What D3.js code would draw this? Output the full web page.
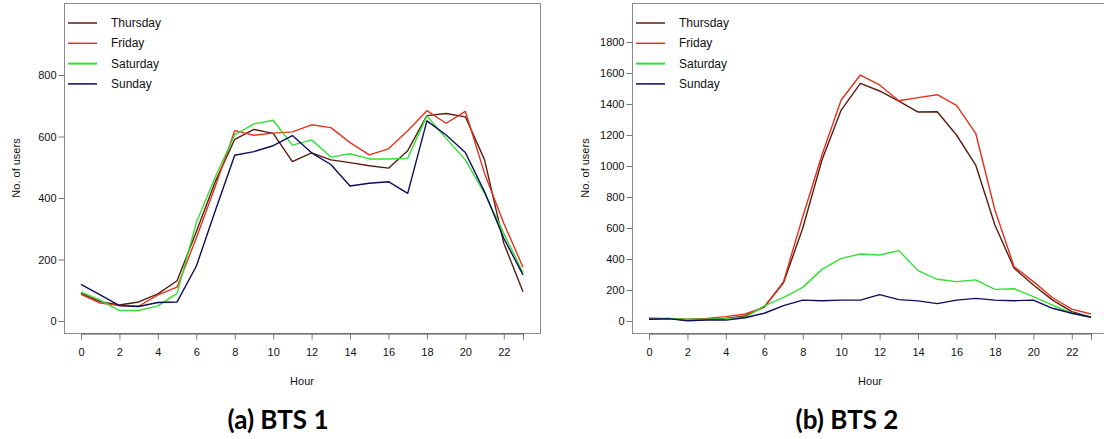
<!DOCTYPE html>
<html>
<head>
<meta charset="utf-8">
<script src="https://cdn.jsdelivr.net/npm/d3@7"></script>
<style>
  body { margin: 0; background: #fff; }
  svg { display: block; }
  .tick-label { font-family: "Liberation Sans", Arial, sans-serif; font-size: 11px; fill: #111; }
  .axis-title { font-family: "Liberation Sans", Arial, sans-serif; font-size: 11px; fill: #111; }
  .legend-text { font-family: "Liberation Sans", Arial, sans-serif; font-size: 12px; fill: #111; }
  .caption { font-family: Lato, "Noto Sans", sans-serif; font-size: 26px; font-weight: bold; fill: #000; }
</style>
</head>
<body>
<svg id="chart" width="1104" height="439"></svg>
<script>
// Hours of the day
const hours = d3.range(0, 24);
const days = ["Thursday", "Friday", "Saturday", "Sunday"];
const dayColors = ["#5a1e10", "#e0321e", "#35de35", "#0d0d5c"];

// BTS 1 values
const bts1Thursday = [90, 63, 52, 62, 88, 131, 290, 455, 591, 623, 610, 518, 547, 524, 515, 505, 497, 554, 668, 675, 664, 524, 253, 95];
const bts1Friday   = [87, 58, 50, 48, 85, 110, 270, 440, 619, 604, 611, 615, 638, 629, 580, 540, 560, 619, 684, 643, 682, 480, 318, 175];
const bts1Saturday = [95, 68, 34, 34, 49, 90, 320, 470, 605, 641, 653, 572, 589, 533, 544, 527, 527, 529, 667, 594, 524, 415, 285, 157];
const bts1Sunday   = [119, 85, 50, 47, 60, 62, 178, 361, 539, 551, 570, 603, 547, 509, 439, 448, 453, 415, 651, 605, 548, 420, 269, 150];

// BTS 2 values
const bts2Thursday = [11, 15, 6, 11, 17, 32, 92, 247, 598, 1039, 1361, 1533, 1484, 1419, 1348, 1350, 1200, 1006, 619, 340, 232, 135, 60, 24];
const bts2Friday   = [11, 17, 11, 17, 28, 45, 88, 254, 673, 1071, 1426, 1587, 1523, 1421, 1441, 1460, 1391, 1211, 716, 350, 254, 150, 77, 45];
const bts2Saturday = [21, 15, 11, 11, 15, 24, 97, 153, 217, 333, 404, 432, 426, 454, 325, 269, 254, 265, 204, 208, 157, 103, 50, 24];
const bts2Sunday   = [11, 15, 2, 6, 6, 21, 50, 99, 135, 131, 135, 135, 170, 138, 130, 112, 135, 146, 135, 131, 135, 82, 50, 24];

const xTicks = [0, 2, 4, 6, 8, 10, 12, 14, 16, 18, 20, 22, 23];
const bts1YTicks = [0, 200, 400, 600, 800];
const bts2YTicks = [0, 200, 400, 600, 800, 1000, 1200, 1400, 1600, 1800];

const svg = d3.select("#chart");

function drawPanel(cfg) {
    const g = svg.append("g");

    const x = d3.scaleLinear().domain([0, 23]).range(cfg.xRange);
    const y = d3.scaleLinear().domain([0, cfg.yMax]).range(cfg.yRange);

    // frame
    g.append("rect")
        .attr("x", cfg.box[0] + 0.5)
        .attr("y", cfg.box[1] + 0.5)
        .attr("width", cfg.box[2] - cfg.box[0])
        .attr("height", cfg.box[3] - cfg.box[1])
        .attr("fill", "none")
        .attr("stroke", "#8a8a8a")
        .attr("stroke-width", 1);

    // x axis
    const xAxis = g.append("g")
        .attr("transform", `translate(0,${cfg.box[3] + 0.5})`)
        .call(d3.axisBottom(x)
            .tickValues(xTicks)
            .tickSize(6)
            .tickFormat(d => d === 23 ? "" : d));
    xAxis.select(".domain").attr("stroke", "#555");
    xAxis.selectAll(".tick line").attr("stroke", "#777");
    xAxis.selectAll(".tick text").attr("class", "tick-label").attr("dy", "1.2em")
        .attr("font-family", null).attr("font-size", null).attr("fill", null);

    // y axis
    const yAxis = g.append("g")
        .attr("transform", `translate(${cfg.box[0] + 0.5},0)`)
        .call(d3.axisLeft(y).tickValues(cfg.yTicks).tickSize(6).tickFormat(d3.format("d")));
    yAxis.select(".domain").remove();
    yAxis.selectAll(".tick line").attr("stroke", "#777");
    yAxis.selectAll(".tick text").attr("class", "tick-label").attr("x", -8)
        .attr("font-family", null).attr("font-size", null).attr("fill", null);

    // titles
    g.append("text")
        .attr("class", "axis-title")
        .attr("x", (cfg.box[0] + cfg.box[2]) / 2)
        .attr("y", 385)
        .attr("text-anchor", "middle")
        .text("Hour");

    g.append("text")
        .attr("class", "axis-title")
        .attr("transform", `translate(${cfg.yTitleX},168) rotate(-90)`)
        .attr("text-anchor", "middle")
        .text("No. of users");

    // lines
    const line = d3.line()
        .x((d, i) => x(hours[i]))
        .y(d => y(d));

    cfg.series.forEach((s, i) => {
        g.append("path")
            .datum(s)
            .attr("fill", "none")
            .attr("stroke", dayColors[i])
            .attr("stroke-width", 1.4)
            .attr("stroke-linejoin", "round")
            .attr("d", line);
    });

    // legend
    const legend = g.append("g")
        .attr("transform", `translate(${cfg.box[0] + 4},23)`);
    days.forEach((day, i) => {
        legend.append("line")
            .attr("x1", 0).attr("x2", 29)
            .attr("y1", i * 20.3).attr("y2", i * 20.3)
            .attr("stroke", dayColors[i])
            .attr("stroke-width", i === 2 ? 2 : 1.5);
        legend.append("text")
            .attr("class", "legend-text")
            .attr("x", 43)
            .attr("y", i * 20.3 + 4)
            .text(day);
    });

    // caption
    g.append("text")
        .attr("class", "caption")
        .attr("x", cfg.captionX)
        .attr("y", 429)
        .attr("text-anchor", "middle")
        .text(cfg.caption);
}

drawPanel({
    box: [64, 3, 540, 333],
    xRange: [81, 523],
    yRange: [321, 75],
    yMax: 800,
    yTicks: bts1YTicks,
    yTitleX: 20,
    series: [bts1Thursday, bts1Friday, bts1Saturday, bts1Sunday],
    caption: "(a) BTS 1",
    captionX: 278
});

drawPanel({
    box: [632, 3, 1108, 333],
    xRange: [649, 1091],
    yRange: [321, 42],
    yMax: 1800,
    yTicks: bts2YTicks,
    yTitleX: 589,
    series: [bts2Thursday, bts2Friday, bts2Saturday, bts2Sunday],
    caption: "(b) BTS 2",
    captionX: 847
});
</script>
</body>
</html>
